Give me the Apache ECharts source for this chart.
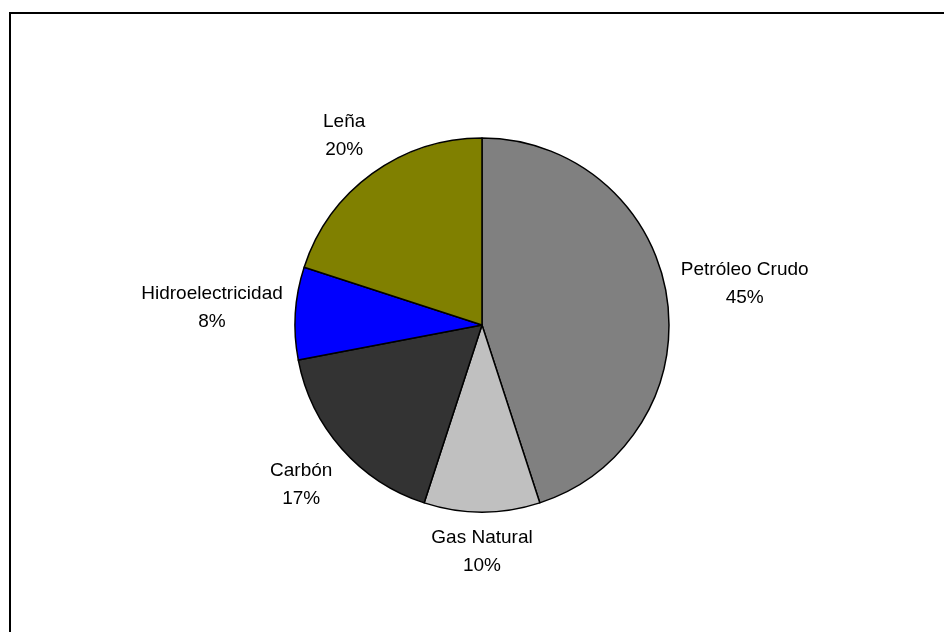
<!DOCTYPE html>
<html>
<head>
<meta charset="utf-8">
<script src="https://cdn.jsdelivr.net/npm/echarts@6/dist/echarts.min.js"></script>
<style>
  html, body { margin: 0; padding: 0; background: #ffffff; }
  #chart { width: 944px; height: 632px; }
</style>
</head>
<body>
<div id="chart"></div>
<script>
// Energy sources and their share (%)
const categories = ['Petróleo Crudo', 'Gas Natural', 'Carbón', 'Hidroelectricidad', 'Leña'];
const shares = [45, 10, 17, 8, 20];
const sliceColors = ['#808080', '#C0C0C0', '#333333', '#0000FF', '#808000'];

// Pie geometry
const CX = 482, CY = 325, R = 187, GAP = 12;

const total = shares.reduce((a, b) => a + b, 0);
const midAngles = [];
let acc = 0;
shares.forEach(v => { midAngles.push((acc + v / 2) / total * 2 * Math.PI); acc += v; });

// Centre each label box on its slice's mid-angle ray, pushed out until the
// nearest point of the box sits GAP pixels beyond the pie rim.
function placeLabel(params) {
  const a = midAngles[params.dataIndex];
  const ux = Math.sin(a), uy = -Math.cos(a);
  const hw = params.labelRect.width / 2, hh = params.labelRect.height / 2;
  const target = R + GAP;
  let t = 0;
  for (let i = 0; i < 2000; i++) {
    const cx = ux * t, cy = uy * t;
    const dx = Math.max(Math.abs(cx) - hw, 0);
    const dy = Math.max(Math.abs(cy) - hh, 0);
    if (Math.hypot(dx, dy) >= target) break;
    t += 0.5;
  }
  return {
    x: CX + ux * t,
    y: CY + uy * t,
    align: 'center',
    verticalAlign: 'middle'
  };
}

const chart = echarts.init(document.getElementById('chart'), null, { renderer: 'canvas' });

chart.setOption({
  animation: false,
  backgroundColor: '#ffffff',
  graphic: [{
    type: 'rect',
    shape: { x: 10, y: 13, width: 1200, height: 1200 },
    style: { fill: 'none', stroke: '#000000', lineWidth: 2 },
    silent: true,
    z: 100
  }],
  series: [{
    type: 'pie',
    center: [CX, CY],
    radius: R,
    startAngle: 90,
    clockwise: true,
    avoidLabelOverlap: false,
    emphasis: { disabled: true },
    itemStyle: { borderColor: '#000000', borderWidth: 1.5 },
    label: {
      show: true,
      position: 'outside',
      color: '#000000',
      fontFamily: 'Liberation Sans, Arial, sans-serif',
      fontSize: 19,
      lineHeight: 28,
      formatter: p => p.name + '\n' + p.value + '%'
    },
    labelLine: { show: false },
    labelLayout: placeLabel,
    data: categories.map((name, i) => ({
      name: name,
      value: shares[i],
      itemStyle: { color: sliceColors[i] }
    }))
  }]
});
</script>
</body>
</html>
